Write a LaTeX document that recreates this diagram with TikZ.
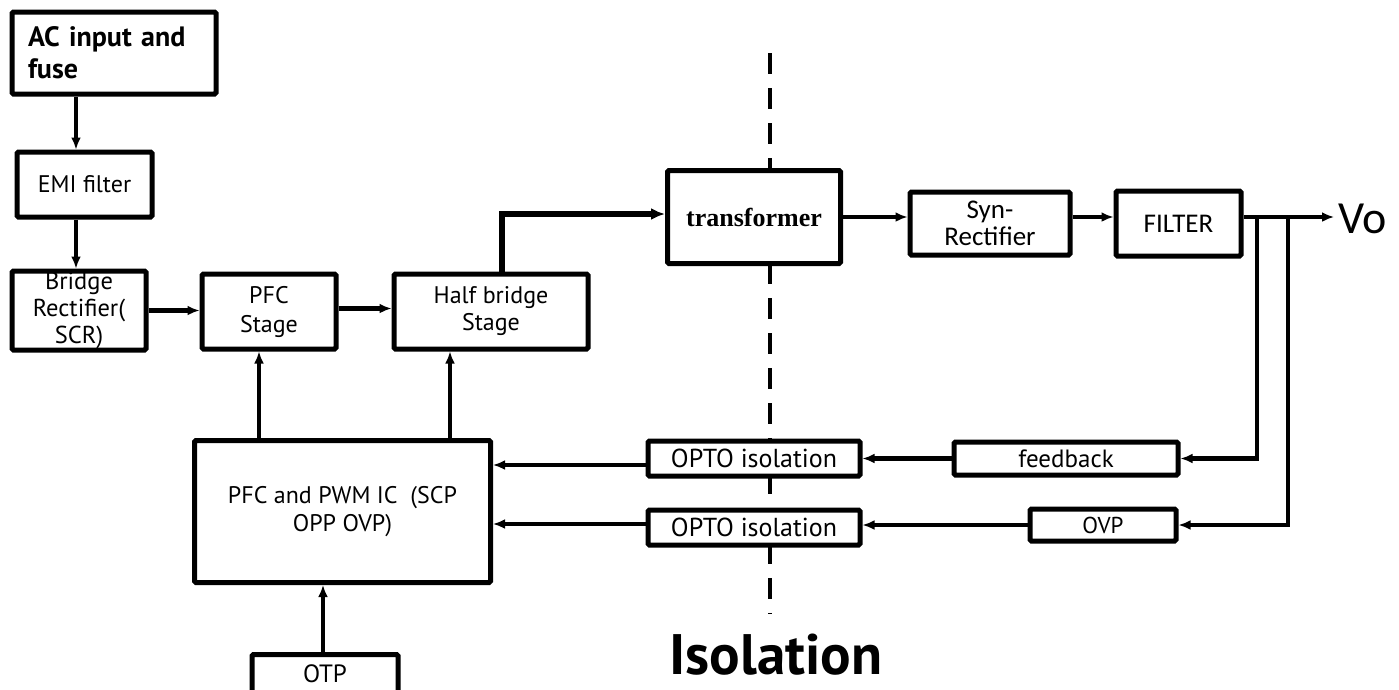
\documentclass[tikz,border=0pt]{standalone}
\usepackage{fontspec}
\setmainfont{PT Sans}
\newfontfamily\calib{Carlito}
\newfontfamily\tnr{Liberation Serif}
\usetikzlibrary{arrows.meta}
\newcommand\fsz[2]{\fontsize{#1}{#2}\selectfont}
\begin{document}
\begin{tikzpicture}[x=1pt,y=-1pt,
  box/.style={draw, line width=5pt, fill=white, rounded corners=1.5pt, inner sep=0pt, align=center, font=\fsz{24}{27}},
  arr/.style={line width=4.2pt, -{Latex[length=12pt,width=10pt]}},
  thickarr/.style={line width=6.5pt, -{Latex[length=14pt,width=12pt]}},
  isoline/.style={line width=4pt, dash pattern=on 21pt off 14pt}]
\clip (0,0) rectangle (1399,689);
\fill[white] (0,0) rectangle (1399,689);

% isolation line
\coordinate (isotop) at (770,53);
\coordinate (isobot) at (770,614);
\draw[isoline] (isotop) -- (isobot);

% boxes
\node[box, minimum width=204, minimum height=82, text width=172, align=left, font=\bfseries\fsz{28}{32}] (ac) at (114,53) {AC input and\\fuse};
\node[box, minimum width=135, minimum height=65] (emi) at (84.5,184.5) {EMI filter};
\node[box, minimum width=134, minimum height=79, font=\fsz{24.5}{27}] (bridge) at (79,310.5) {Bridge\\Rectifier(\\SCR)};
\node[box, minimum width=134, minimum height=75, font=\fsz{24}{29}] (pfc) at (269,311.5) {PFC\\Stage};
\node[box, minimum width=194, minimum height=75] (half) at (491,311.5) {Half bridge\\Stage};
\node[box, minimum width=173, minimum height=93, font=\tnr\bfseries\fsz{26}{28}] (trans) at (754,217) {transformer};
\node[box, minimum width=160, minimum height=63, font=\calib\fsz{27}{27}] (syn) at (990,223.5) {Syn-\\Rectifier};
\node[box, minimum width=125, minimum height=65, font=\calib\fsz{27}{27}] (filt) at (1178.5,223.5) {FILTER};
\node[box, minimum width=296, minimum height=142, font=\fsz{24}{28}] (ic) at (342.5,511.5) {PFC and PWM IC~~(SCP\\OPP OVP)};
\node[box, minimum width=212, minimum height=35, font=\fsz{26}{27}] (opto1) at (754,458.5) {OPTO isolation};
\node[box, minimum width=212, minimum height=35, font=\fsz{26}{27}] (opto2) at (754,527.5) {OPTO isolation};
\node[box, minimum width=224, minimum height=33, font=\fsz{25}{27}] (fb) at (1066,458.5) {feedback};
\node[box, minimum width=146, minimum height=32, font=\fsz{23}{27}] (ovp) at (1103,525) {OVP};
\node[box, minimum width=146, anchor=north, inner ysep=6pt, text height=22pt, text depth=40pt, font=\fsz{25}{27}] (otp) at (325,652) {OTP};
\node[font=\calib\fsz{46}{50}, inner sep=4pt, anchor=west] (vo) at (1334,219) {Vo};
\node[font=\bfseries\fsz{57}{60}] (iso) at (776,655) {Isolation};

% helper coordinates
\coordinate (cx) at (76,0);
\coordinate (hx) at (502,0);
\coordinate (ty) at (0,214);
\coordinate (vy) at (0,217);
\coordinate (t1) at (1257,217);
\coordinate (t2) at (1288,217);
\coordinate (c1) at (259,0);
\coordinate (c2) at (450,0);
\coordinate (c3) at (323,0);
\coordinate (y1) at (0,465);
\coordinate (y2) at (0,524);

% connectors
\draw[arr] (ac.south -| cx) -- (emi.north -| cx);
\draw[arr] (emi.south -| cx) -- (bridge.north -| cx);
\draw[arr] (bridge.east) -- (pfc.west |- bridge.east);
\draw[arr] ([yshift=3pt]pfc.east) -- ([yshift=3pt]half.west);
\draw[thickarr] (half.north -| hx) |- (trans.west |- ty);
\draw[arr] (trans.east |- vy) -- (syn.west |- vy);
\draw[arr] (syn.east |- vy) -- (filt.west |- vy);
\draw[arr] (filt.east |- vy) -- (vo.west |- vy);
\draw[arr] (t1) |- (fb.east);
\draw[arr] (t2) |- (ovp.east);
\draw[arr] (fb.west) -- (opto1.east |- fb.west);
\draw[arr] (ovp.west) -- (opto2.east |- ovp.west);
\draw[arr] (opto1.west |- y1) -- (ic.east |- y1);
\draw[arr] (opto2.west |- y2) -- (ic.east |- y2);
\draw[arr] (ic.north -| c1) -- (pfc.south -| c1);
\draw[arr] (ic.north -| c2) -- (half.south -| c2);
\draw[arr] (otp.north -| c3) -- (ic.south -| c3);
\end{tikzpicture}
\end{document}
